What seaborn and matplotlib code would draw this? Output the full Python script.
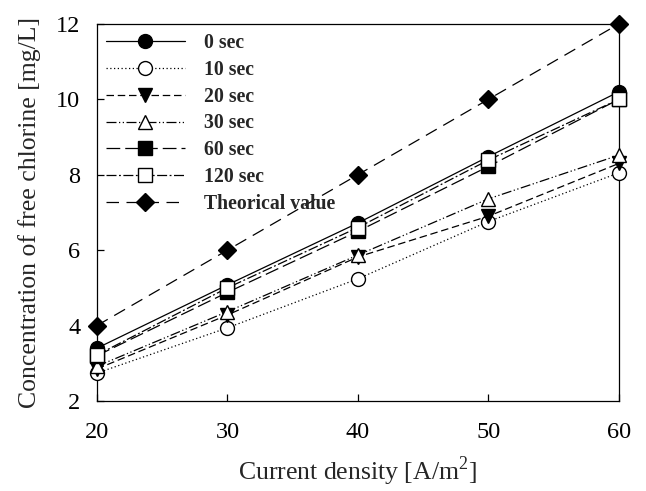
import numpy as np
import pandas as pd
import seaborn as sns
import matplotlib
matplotlib.use("Agg")
import matplotlib.pyplot as plt

# data
density = [20, 30, 40, 50, 60]
sec_0 = [3.40, 5.08, 6.72, 8.48, 10.20]
sec_10 = [2.74, 3.94, 5.24, 6.76, 8.05]
sec_20 = [2.85, 4.28, 5.82, 6.90, 8.30]
sec_30 = [2.92, 4.37, 5.87, 7.36, 8.52]
sec_60 = [3.20, 4.88, 6.50, 8.22, 10.00]
sec_120 = [3.22, 5.00, 6.60, 8.39, 10.00]
theory = [4.0, 6.0, 8.0, 10.0, 12.0]

labels = ["0 sec", "10 sec", "20 sec", "30 sec", "60 sec", "120 sec", "Theorical value"]
series = [sec_0, sec_10, sec_20, sec_30, sec_60, sec_120, theory]

# marker, fill, linestyle for each series
styles = [
    ("o", "black", "-"),
    ("o", "white", (0, (1, 2))),
    ("v", "black", (0, (6, 3))),
    ("^", "white", (0, (8, 2, 1, 2, 1, 2))),
    ("s", "black", (0, (11, 4))),
    ("s", "white", (0, (8, 2, 1.5, 2))),
    ("D", "black", (0, (10, 6))),
]

sns.set_style("ticks")
plt.rcParams['font.family'] = ['Liberation Serif', 'DejaVu Serif']
plt.rcParams['mathtext.fontset'] = 'custom'
plt.rcParams['mathtext.rm'] = 'Liberation Serif'

fig = plt.figure(figsize=(6.46, 4.91), dpi=100)
ax = fig.add_axes([0.150, 0.1833, 0.808, 0.768])

for vals, lab, (mk, fc, ls) in zip(series, labels, styles):
    df = pd.DataFrame({"x": density, "y": vals})
    sns.lineplot(data=df, x="x", y="y", ax=ax, color="black", linewidth=0.9,
                 linestyle=ls, marker=mk, markersize=10 if mk != "D" else 9.5,
                 markerfacecolor=fc, markeredgecolor="black", markeredgewidth=1.0,
                 label=lab, clip_on=False, zorder=3)

ax.set_xlim(20, 60)
ax.set_ylim(2, 12)
ax.set_xticks([20, 30, 40, 50, 60])
ax.set_yticks([2, 4, 6, 8, 10, 12])
ax.tick_params(direction="in", length=5, width=0.9, labelsize=17.5, pad=12,
               top=False, right=False, colors="black")
ax.tick_params(axis="x", pad=15)
for sp in ax.spines.values():
    sp.set_linewidth(0.9)
    sp.set_color("black")

ax.set_xlabel("Current density [A/m$^2$]", fontsize=18.5, labelpad=8)
ax.set_ylabel("Concentration of free chlorine [mg/L]", fontsize=18.5, labelpad=11)

ax.legend(loc="upper left", frameon=False, prop={"weight": "bold", "size": 14.2},
          handlelength=4.0, handletextpad=1.0, labelspacing=0.35,
          borderaxespad=0.2, borderpad=0.25)

fig.savefig("out.png", dpi=100)
